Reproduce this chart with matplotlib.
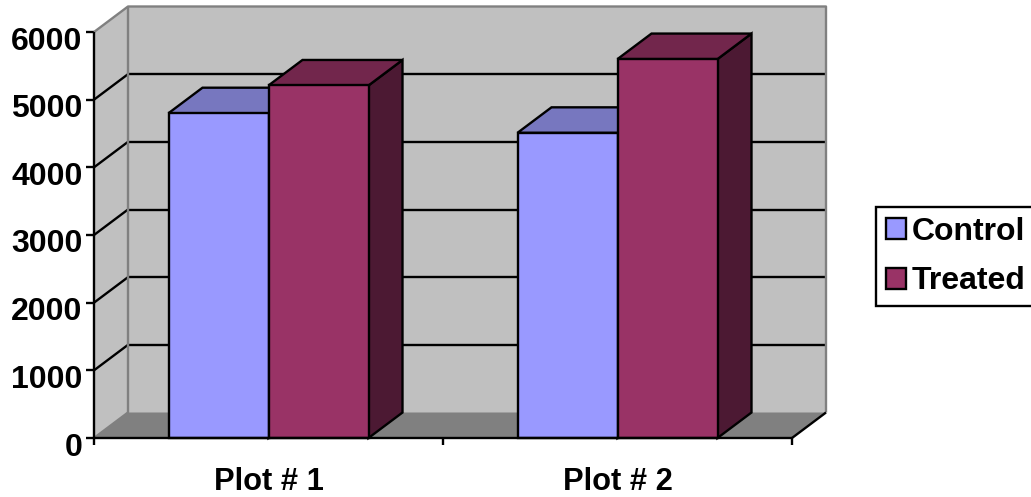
import matplotlib
matplotlib.use("Agg")
import matplotlib.pyplot as plt
from matplotlib.patches import Polygon, Patch
from matplotlib.ticker import FixedLocator, NullFormatter
from matplotlib.transforms import ScaledTranslation

plt.rcParams['font.family'] = ['Liberation Sans', 'DejaVu Sans']
plt.rcParams['font.weight'] = 'bold'

categories = ["Plot # 1", "Plot # 2"]
control = [4800, 4510]
treated = [5210, 5600]
y_ticks = [0, 1000, 2000, 3000, 4000, 5000, 6000]

W, H = 1031, 497
fig = plt.figure(figsize=(W / 100, H / 100), dpi=100)
L, R, T, B = 94, 792, 32, 438
ax = fig.add_axes([L / W, (H - B) / H, (R - L) / W, (B - T) / H])
ax.set_xlim(0, len(categories))
ax.set_ylim(0, 6000)
ax.patch.set_visible(False)
for s in ax.spines.values():
    s.set_visible(False)

DX = 34 / (R - L) * len(categories)
DY = 25.5 / (B - T) * 6000
LW = 1.7
WALL, FLOOR, EDGE = '#C0C0C0', '#808080', '#808080'
YMAX = y_ticks[-1]
XMAX = len(categories)


def poly(pts, fc, ec='none', z=1, lw=LW):
    ax.add_patch(Polygon(pts, closed=True, facecolor=fc, edgecolor=ec, lw=lw,
                         zorder=z, clip_on=False, joinstyle='miter'))


def line(xs, ys, c='black', z=2, lw=LW):
    ax.plot(xs, ys, color=c, lw=lw, zorder=z, clip_on=False, solid_capstyle='butt')


# walls and floor
poly([(DX, DY), (XMAX + DX, DY), (XMAX + DX, YMAX + DY), (DX, YMAX + DY)], WALL)
poly([(0, 0), (DX, DY), (DX, YMAX + DY), (0, YMAX)], WALL)
poly([(0, 0), (XMAX, 0), (XMAX + DX, DY), (DX, DY)], FLOOR)

# gridlines on back and side walls
for v in y_ticks[1:-1]:
    line([DX, XMAX + DX], [v + DY, v + DY])
    line([0, DX], [v, v + DY])

# wall outlines
line([0, DX, XMAX + DX, XMAX + DX], [YMAX, YMAX + DY, YMAX + DY, DY], EDGE, z=2.5)
line([DX, DX], [DY, YMAX + DY], EDGE, z=2.5)
line([0, DX], [0, DY], EDGE, z=2.5)
line([XMAX, XMAX + DX], [0, DY], 'black', z=2.5)

# bars
BW = 100 / (R - L) * len(categories)
OFF = 74.5 / (R - L) * len(categories)
series = [(control, '#9999FF', '#7777BF', '#4D4D80'),
          (treated, '#993366', '#72264C', '#4C1933')]
for k, (vals, front, top, side) in enumerate(series):
    for i, v in enumerate(vals):
        x0 = i + OFF + k * BW
        x1 = x0 + BW
        poly([(x1, 0), (x1 + DX, DY), (x1 + DX, v + DY), (x1, v)], side, 'black', 3 + k)
        poly([(x0, v), (x1, v), (x1 + DX, v + DY), (x0 + DX, v + DY)], top, 'black', 3 + k)
    ax.bar([i + OFF + k * BW for i in range(len(vals))], vals, BW, align='edge',
           color=front, edgecolor='black', lw=LW, zorder=3.5 + k, clip_on=False)

# axis lines
line([0, 0], [0, YMAX], z=6)
line([0, XMAX], [0, 0], z=6)

# ticks
ax.set_yticks(y_ticks)
ax.set_yticklabels([str(v) for v in y_ticks], fontsize=23, fontweight='bold')
ax.tick_params(axis='y', length=6, width=LW, pad=2.2, color='black')
ax.xaxis.set_major_locator(FixedLocator(range(len(categories) + 1)))
ax.xaxis.set_major_formatter(NullFormatter())
ax.tick_params(axis='x', which='major', length=5, width=LW)
ax.set_xticks([i + 0.5 for i in range(len(categories))], labels=categories, minor=True,
              fontsize=22.2, fontweight='bold')
ax.tick_params(axis='x', which='minor', length=0, pad=21)

# the labels sit a little below their ticks
shift = ScaledTranslation(0, -6 / 100, fig.dpi_scale_trans)
for lab in ax.get_yticklabels():
    lab.set_transform(lab.get_transform() + shift)

# legend
handles = [Patch(facecolor='#9999FF', edgecolor='black', lw=LW, label='Control'),
           Patch(facecolor='#993366', edgecolor='black', lw=LW, label='Treated')]
leg = fig.legend(handles=handles, loc='upper left', bbox_to_anchor=(876 / W, 1 - 207 / H),
                 prop={'size': 23, 'weight': 'bold'}, frameon=True, fancybox=False,
                 edgecolor='black', framealpha=1, borderaxespad=0, borderpad=0.3,
                 handlelength=0.65, handleheight=0.65, handletextpad=0.17,
                 labelspacing=0.62)
leg.get_frame().set_linewidth(LW)

fig.savefig('out.png', dpi=100)
